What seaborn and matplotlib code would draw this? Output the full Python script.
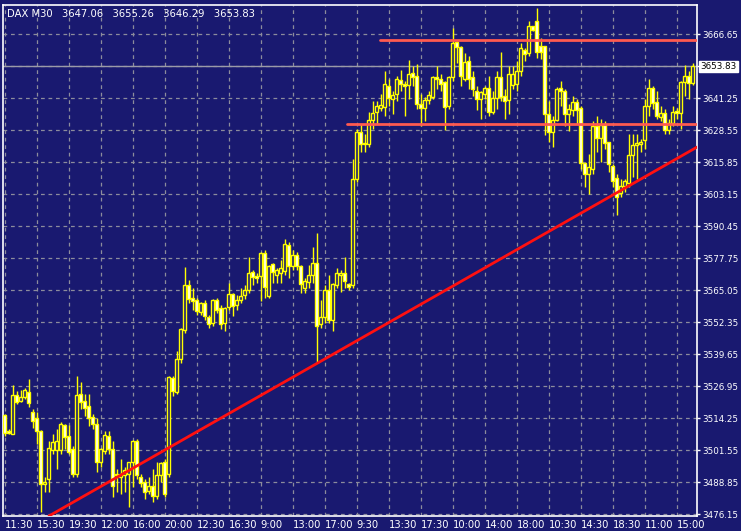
import matplotlib
matplotlib.use("Agg")
import matplotlib.pyplot as plt
import matplotlib.transforms as mtransforms
import seaborn as sns
import numpy as np
import pandas as pd

opens = [3515.5,3509,3508,3523.4,3521,3522.6,3524.6,3516.7,3514.3,3509.1,
 3488,3489.9,3501.5,3501.5,3501.5,3511.5,3507,3502,3492,3524,
 3521,3519,3514.7,3511.9,3496.8,3501,3507,3502,3491.5,3491,
 3491.5,3492,3496.8,3505,3491,3489,3485.5,3487.5,3483.3,3491.5,
 3497,3492,3530,3524.6,3537.7,3549.2,3567,3561.9,3561,3556.5,
 3560,3554.2,3552,3561,3558,3552,3558.3,3563.4,3559,3561,
 3563,3565,3572.2,3570.6,3570.6,3579.7,3562.6,3575.4,3571,3572,
 3572.6,3583,3574.6,3579,3574.6,3566,3568.3,3571,3576,3551.5,
 3554.5,3565,3553.2,3567,3571,3571.8,3567.6,3567,3609,3627.8,
 3623.5,3623,3632.5,3635.7,3637.5,3637.7,3646,3641,3642.7,3648.4,
 3647,3646.5,3651.2,3650,3638.9,3637.3,3640.5,3641.6,3649.8,3648.8,
 3647.6,3638,3649.6,3663.5,3661.5,3649,3655.8,3649.6,3644,3641,
 3643,3645.2,3635.7,3641.2,3649.6,3642,3640.5,3646.5,3647,3652,
 3660.4,3659,3669.8,3671.8,3661.9,3661.9,3634.9,3627.8,3632.5,3645.2,
 3644,3634.8,3636.5,3639.7,3637.3,3615.5,3611,3613,3630,3625.4,
 3630.5,3623.8,3614.3,3609.5,3603.5,3606.4,3607.5,3618.5,3622.5,3623.2,
 3624.6,3638,3645.2,3639.7,3633.7,3635.3,3628.6,3631.3,3636,3635.3,
 3647.6,3650,3647.06]
highs = [3516,3510,3527.4,3525,3525.5,3526.2,3529.7,3518,3516.5,3509.5,
 3491,3505,3508,3510,3512.6,3512,3511.5,3503,3531,3528.5,
 3524,3524,3516,3514.3,3502.5,3509,3509,3505,3494,3498,
 3495,3497,3505.5,3506,3492,3490,3491,3494,3497,3497,
 3498,3531,3531,3541,3550,3574.2,3569,3566,3562,3560.5,
 3561,3555,3561.5,3562,3559,3558.5,3568,3564,3563,3566,
 3567,3578,3573,3572,3580,3581,3575,3576,3574,3577,
 3585.4,3584,3581,3580,3575,3570,3575,3582,3587.7,3561,
 3567,3571,3568,3574,3573,3578,3568,3617,3629,3631,
 3627,3635.7,3640,3640,3643,3652,3649,3644,3650,3652.5,
 3648,3656.4,3654,3654.6,3643,3641.5,3644,3650,3654,3651,
 3648,3650,3669,3664,3662,3659,3658,3652,3646,3644,
 3646,3650,3644,3652,3659.5,3645,3654,3654,3656,3663,
 3661,3672,3670,3677,3665,3662,3640,3634,3645.5,3648,
 3645,3639,3642,3641,3638,3616,3619,3632,3634,3633,
 3632,3624,3615,3611,3609,3609,3627,3627,3627,3625,
 3641,3649,3646,3644,3638,3637,3633,3638,3637.5,3648,
 3654.5,3652,3655.26]
lows = [3507,3508,3508,3520,3520.5,3522,3518.6,3510.5,3504,3477,
 3485,3485,3500,3494,3500,3502,3500,3491,3491,3518,
 3515,3511,3510,3493,3495,3500,3500,3483,3485,3484,
 3485,3479,3487,3490,3487,3482,3484,3481,3482,3489,
 3483,3491,3523,3524,3536,3548,3560,3557,3555,3555,
 3553,3550,3551,3556,3549.6,3549,3557,3554.6,3557,3560,
 3561.5,3564,3567,3568,3560.7,3561.9,3562,3568,3568,3568,
 3571,3570,3573,3573,3564,3564,3566,3568,3536,3550,
 3552,3552,3549,3566,3564.4,3566,3565,3566,3608,3620,
 3620,3622,3629,3631,3636,3634,3638,3635,3640,3644,
 3634,3641,3646,3637,3630,3632,3639,3641,3645,3644,
 3628.5,3637,3648,3655,3646,3648,3645,3642,3636.5,3633,
 3641,3634,3635,3637,3640,3633,3635,3645,3644,3650,
 3656,3658,3668,3657,3656.7,3626.5,3624,3622,3632,3638,
 3630,3628,3634,3631,3613,3606,3603,3611,3620,3616,
 3621,3612,3606,3595,3602,3604,3606,3610,3609,3620,
 3621,3634,3637,3633,3632,3627,3627,3630,3633,3629,
 3642,3641,3646.29]
closes = [3508.3,3508.5,3523.4,3520.6,3522.8,3525.4,3520.2,3513.1,3509.1,3488.1,
 3489,3502.4,3504.7,3505.3,3511.9,3506.7,3500.8,3492,3523.4,3520.6,
 3518.2,3514.3,3511.9,3496.8,3502,3507.5,3502,3487.3,3491.9,3492,
 3493.6,3496.8,3505,3491.5,3488.5,3485,3487.5,3483.3,3491.5,3496.4,
 3484,3530.5,3525,3537.7,3549.6,3567,3561.5,3560.8,3556.7,3560,
 3554.6,3551.6,3561,3557.1,3551.6,3557.9,3563.4,3558.7,3561,3562.6,
 3565,3571.8,3570.2,3569.8,3579.7,3566.2,3574.6,3572.2,3573,3573.8,
 3583.2,3574.6,3579,3574.6,3567.4,3568.6,3571,3575.8,3550.8,3554.5,
 3565,3553.2,3567.4,3571.8,3572,3568.6,3566.4,3609,3627.8,3623,
 3623,3632.5,3635.3,3638,3638.5,3646.8,3641.2,3642.6,3648.7,3647,
 3646,3650.8,3649.6,3638.9,3637.3,3640.5,3642.3,3649.6,3648.8,3647,
 3637.7,3649.6,3663,3661.5,3650,3655.5,3649,3644.8,3640.9,3643.5,
 3645.2,3635.7,3641.2,3649.6,3641.6,3640,3651,3651,3652,3661,
 3658.8,3669.7,3668.2,3659.5,3659.5,3634.9,3627.8,3632.5,3644.8,3644,
 3634.9,3637,3639.7,3636.7,3615.5,3611,3614,3630,3625.4,3630.4,
 3623.4,3615,3608.3,3602,3606.4,3608.2,3618.6,3622.6,3623.5,3624,
 3638,3645.2,3639.3,3634,3635.3,3628.6,3631.3,3635.7,3635.3,3647.6,
 3650,3647.2,3653.83]

x_labels = ["11:30","15:30","19:30","12:00","16:00","20:00","12:30","16:30","9:00",
            "13:00","17:00","9:30","13:30","17:30","10:00","14:00","18:00","10:30",
            "14:30","18:30","11:00","15:00"]
y_ticks = [3476.15,3488.85,3501.55,3514.25,3526.95,3539.65,3552.35,3565.05,3577.75,
           3590.45,3603.15,3615.85,3628.55,3641.25,3653.95,3666.65]
trend_x = [11.1, 173.1]
trend_y = [3475.4, 3621.8]
res_upper = 3664.3
res_upper_start = 93.9
res_lower = 3631.0
res_lower_start = 85.6
last_price = 3653.83

NAVY = "#191970"
sns.set_style("dark", {"axes.facecolor": NAVY, "figure.facecolor": NAVY})
plt.rcParams['font.family'] = ['DejaVu Sans']

df = pd.DataFrame({"o": opens, "h": highs, "l": lows, "c": closes})
df["i"] = np.arange(len(df))

fig = plt.figure(figsize=(7.41, 5.31), dpi=100, facecolor=NAVY)
ax = fig.add_axes([3/741, 15/531, 694/741, 511/531])
ax.set_facecolor(NAVY)
ax.set_xlim(-0.375, 173.1)
ax.set_ylim(3475.4, 3678.2)

for k in range(0, 176, 8):
    ax.axvline(k, color="#8c8c9c", lw=0.9, ls=(0, (3, 3)), zorder=0)
for t in y_ticks:
    ax.axhline(t, color="#8c8c9c", lw=0.9, ls=(0, (3, 3)), zorder=0)
ax.axhline(last_price, color="#9a9aa8", lw=1.0, zorder=1)

ax.vlines(df["i"], df["l"], df["h"], color="#ffff00", lw=1.0, zorder=2)
bull = df["c"] >= df["o"]
bot = np.minimum(df["o"], df["c"])
hgt = np.maximum(np.abs(df["c"] - df["o"]), 0.6)
ax.bar(df["i"], hgt, bottom=bot, width=0.6,
       color=np.where(bull, NAVY, "white"), edgecolor="#ffff00", lw=1.0, zorder=3)

sns.lineplot(x=trend_x, y=trend_y, color="#ff1010", lw=2, ax=ax, zorder=4)
ax.plot([res_upper_start, 173.1], [res_upper, res_upper], color="#ff5a50", lw=2, zorder=4)
ax.plot([res_lower_start, 173.1], [res_lower, res_lower], color="#ff5a50", lw=2, zorder=4)

for s in ax.spines.values():
    s.set_color("white"); s.set_linewidth(1.2); s.set_visible(True)
ax.yaxis.tick_right()
ax.set_yticks(y_ticks)
ax.set_yticklabels([f"{t:.2f}" if abs(t - 3653.95) > 0.01 else "" for t in y_ticks])
ax.set_xticks(list(range(0, 176, 8)))
ax.set_xticklabels(x_labels, ha="left")
ax.tick_params(axis="y", colors="white", labelsize=6.3, length=2.5, width=1, pad=1.5, right=True)
ax.tick_params(axis="x", colors="white", labelsize=7.2, length=0, pad=3)
ax.grid(False)

trans = mtransforms.blended_transform_factory(ax.transAxes, ax.transData)
ax.text(1.005, last_price, f"{last_price:.2f}", transform=trans, va="center", ha="left",
        fontsize=6.3, color="black", bbox=dict(boxstyle="square,pad=0.12", fc="white", ec="white"),
        clip_on=False)
fig.text(7/741, 1 - 14/531, "DAX M30   3647.06   3655.26   3646.29   3653.83",
         color="white", fontsize=7.2, va="center", ha="left")

fig.savefig("out.png", dpi=100, facecolor=NAVY)
